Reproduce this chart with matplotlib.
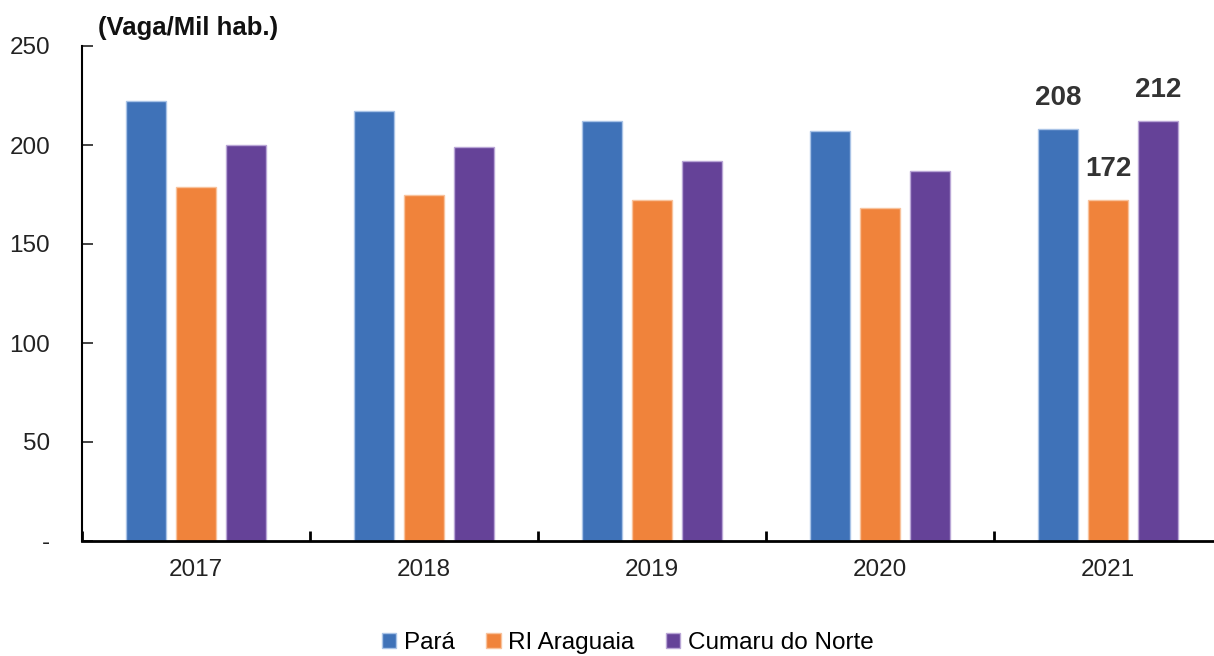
import numpy as np
import matplotlib.pyplot as plt

plt.rcParams['font.family'] = ['Liberation Sans', 'DejaVu Sans']

years = ['2017', '2018', '2019', '2020', '2021']
para = [222, 217, 212, 207, 208]
ri_araguaia = [179, 175, 172, 168, 172]
cumaru = [200, 199, 192, 187, 212]

series = ['Pará', 'RI Araguaia', 'Cumaru do Norte']
colors = ['#3F72B8', '#F0833B', '#654298']
edges = ['#A9C3E6', '#F8C29C', '#B9A6D6']

fig = plt.figure(figsize=(12.14, 6.56), dpi=100)
ax = fig.add_axes([82/1214, 115/656, 1140/1214, 495/656])

x = np.arange(len(years))
w = 0.175
step = 0.22
for i, (vals, c, e) in enumerate(zip([para, ri_araguaia, cumaru], colors, edges)):
    ax.bar(x + (i - 1) * step, vals, w, color=c, edgecolor=e, linewidth=1,
           label=series[i], zorder=2)

# labels only on last year
last = len(years) - 1
for i, vals in enumerate([para, ri_araguaia, cumaru]):
    ax.annotate(str(vals[last]), (last + (i - 1) * step, vals[last]),
                xytext=(0, 13), textcoords='offset points', ha='center',
                va='bottom', fontsize=20, fontweight='bold', color='#333333')

ax.set_xlim(-0.5, 4.5)
ax.set_ylim(0, 250)
ax.set_yticks([0, 50, 100, 150, 200, 250])
ax.set_yticklabels(['-', '50', '100', '150', '200', '250'])
ax.set_xticks(x)
ax.set_xticklabels(years)
ax.set_xticks(np.arange(-0.5, 5, 1), minor=True)

for s in ['top', 'right']:
    ax.spines[s].set_visible(False)
ax.spines['left'].set_linewidth(1.5)
ax.spines['bottom'].set_linewidth(2)

ax.tick_params(axis='y', direction='in', length=8, width=1.2, labelsize=17.5,
               pad=23, colors='#222222')
ax.tick_params(axis='x', which='major', length=0, labelsize=17.5, pad=13,
               colors='#222222')
ax.tick_params(axis='x', which='minor', direction='in', length=7, width=2)

ax.text(0.014, 1.012, '(Vaga/Mil hab.)', transform=ax.transAxes, fontsize=18.5,
        fontweight='bold', va='bottom', ha='left', color='#111111')

fig.legend(loc='lower center', bbox_to_anchor=(0.517, -0.03), ncol=3,
           frameon=False, fontsize=17.5, handlelength=0.6, handleheight=0.6,
           handletextpad=0.3, columnspacing=1.3)

fig.savefig('out.png', dpi=100)
